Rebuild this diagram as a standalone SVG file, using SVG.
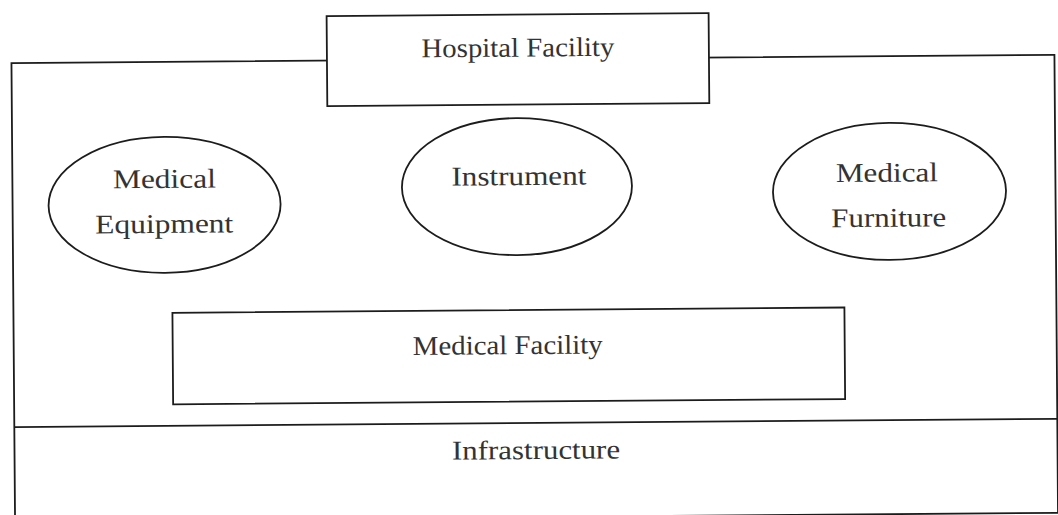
<svg xmlns="http://www.w3.org/2000/svg" width="1058" height="515" viewBox="0 0 1058 515">
  <style>
    .ln { fill: none; stroke: #1c1c1c; stroke-width: 1.8; }
    .box { fill: #ffffff; stroke: #1c1c1c; stroke-width: 1.8; }
    .lbl { font-family: "Liberation Serif", "Times New Roman", serif; font-size: 27px; fill: #333333; text-anchor: middle; }
  </style>
  <rect x="0" y="0" width="1058" height="515" fill="#ffffff"/>
  <g transform="rotate(-0.45 529 257)">
    <g id="frame">
      <rect class="ln" x="13" y="59" width="1043" height="458"/>
      <line class="ln" x1="13" y1="423" x2="1056" y2="423"/>
    </g>
    <g id="connectors"/>
    <g id="hospital-facility">
      <rect class="box" x="328.5" y="14.5" width="382" height="90"/>
      <text class="lbl" x="519.5" y="56.5" textLength="193" lengthAdjust="spacingAndGlyphs">Hospital Facility</text>
    </g>
    <g id="medical-equipment">
      <ellipse class="box" cx="165" cy="202" rx="116" ry="68"/>
      <text class="lbl" x="165" y="185" textLength="103" lengthAdjust="spacingAndGlyphs">Medical</text>
      <text class="lbl" x="164.5" y="230" textLength="138" lengthAdjust="spacingAndGlyphs">Equipment</text>
    </g>
    <g id="instrument">
      <ellipse class="box" cx="517.5" cy="186.5" rx="115" ry="68.5"/>
      <text class="lbl" x="519.5" y="185" textLength="135" lengthAdjust="spacingAndGlyphs">Instrument</text>
    </g>
    <g id="medical-furniture">
      <ellipse class="box" cx="890" cy="194.3" rx="116.5" ry="68.5"/>
      <text class="lbl" x="887.5" y="184.5" textLength="102" lengthAdjust="spacingAndGlyphs">Medical</text>
      <text class="lbl" x="889" y="229.5" textLength="115" lengthAdjust="spacingAndGlyphs">Furniture</text>
    </g>
    <g id="medical-facility">
      <rect class="box" x="172" y="310" width="672" height="91.5"/>
      <text class="lbl" x="507" y="354" textLength="190" lengthAdjust="spacingAndGlyphs">Medical Facility</text>
    </g>
    <g id="infrastructure">
      <text class="lbl" x="534.5" y="459" textLength="168" lengthAdjust="spacingAndGlyphs">Infrastructure</text>
    </g>
  </g>
</svg>
